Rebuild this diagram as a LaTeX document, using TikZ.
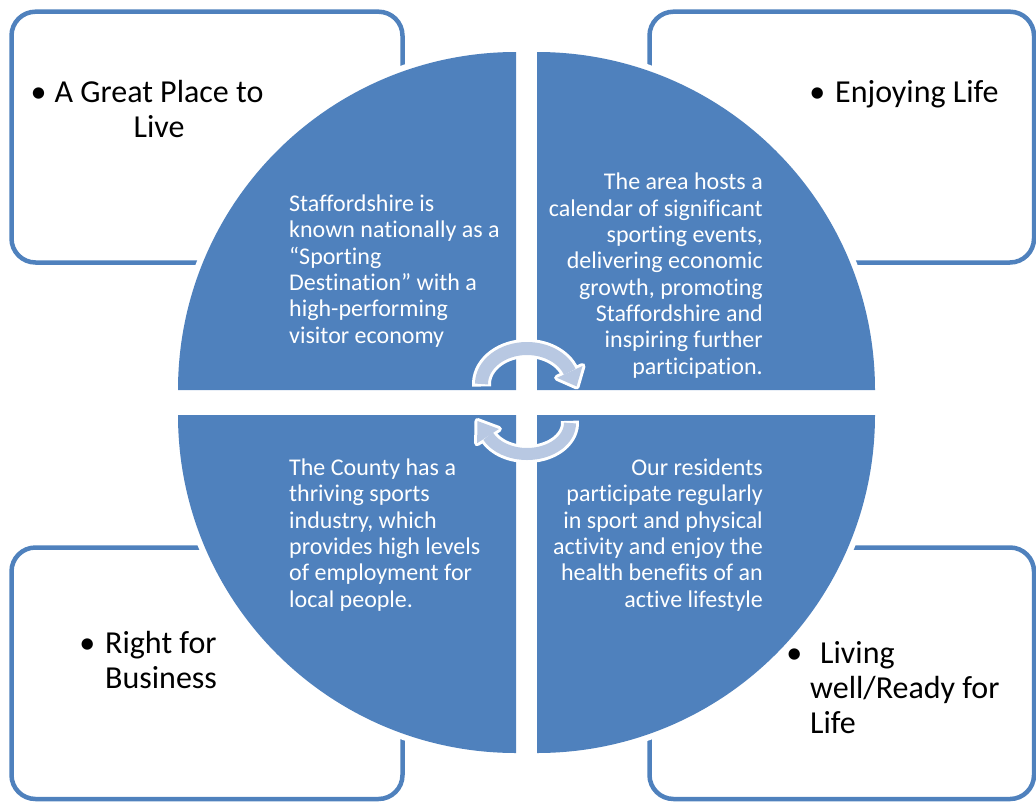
\documentclass[tikz,border=0pt]{standalone}
\usepackage{fontspec}
\setmainfont{Carlito}[Ligatures=NoCommon]
\definecolor{accent}{HTML}{4F81BD}
\definecolor{arrowfill}{HTML}{B8C8E2}
\begin{document}
\begin{tikzpicture}[x=1pt,y=-1pt,
  box/.style={draw=accent, line width=4.5pt, rounded corners=24pt},
  quad/.style={fill=accent},
  halo/.style={fill=white},
  arrowbody/.style={draw=arrowfill, line width=13pt},
  arrowedge/.style={draw=white, line width=19pt},
  label/.style={inner sep=0pt, font=\fontsize{32}{35}\selectfont, text=black},
  body/.style={inner sep=0pt, font=\fontsize{24}{26.3}\selectfont, text=white},
]
\useasboundingbox (0,0) rectangle (1036,801);

% corner boxes
\draw[box] (11.5,11.7) rectangle (402.5,262.5);
\draw[box] (649.5,11.7) rectangle (1034,262.5);
\draw[box] (11.5,547.5) rectangle (402.5,799);
\draw[box] (649.5,547.5) rectangle (1034,799);

% white halo around the four quadrants
\fill[halo] (516,390) -- (172,390) arc[start angle=180, end angle=270, radius=344] -- cycle;
\fill[halo] (537,390) -- (537,46) arc[start angle=270, end angle=360, radius=344] -- cycle;
\fill[halo] (537,415) -- (881,415) arc[start angle=0, end angle=90, radius=344] -- cycle;
\fill[halo] (516,415) -- (516,759) arc[start angle=90, end angle=180, radius=344] -- cycle;

% the four quadrants
\fill[quad] (516,390) -- (178,390) arc[start angle=180, end angle=270, radius=338] -- cycle;
\fill[quad] (537,390) -- (537,52) arc[start angle=270, end angle=360, radius=338] -- cycle;
\fill[quad] (537,415) -- (875,415) arc[start angle=0, end angle=90, radius=338] -- cycle;
\fill[quad] (516,415) -- (516,753) arc[start angle=90, end angle=180, radius=338] -- cycle;

% white outlines of the two circular arrows
\draw[arrowedge] ([shift={(176:45.5 and 35.5)}]527,384) arc[start angle=176, end angle=340, x radius=45.5, y radius=35.5];
\filldraw[white, line width=6pt, line join=round] (582.5,366.0) -- (576.6,386.4) -- (557.1,377.8) -- cycle;
\draw[white, line width=18pt] ([shift={(-4:43 and 31)}]527,423) arc[start angle=-4, end angle=155, x radius=43, y radius=31];
\filldraw[white, line width=6pt, line join=round] (498.9,429.0) -- (477.5,421.0) -- (477.1,443.2) -- cycle;

% upper arrow: left, over the top, to the right
\draw[arrowbody] ([shift={(180:45.5 and 35.5)}]527,384) arc[start angle=180, end angle=340, x radius=45.5, y radius=35.5];
\fill[arrowfill] (582.5,366.0) -- (576.6,386.4) -- (557.1,377.8) -- cycle;
% lower arrow: right, under the bottom, to the left
\draw[arrowfill, line width=12pt] ([shift={(0:43 and 31)}]527,423) arc[start angle=0, end angle=155, x radius=43, y radius=31];
\fill[arrowfill] (498.9,429.0) -- (477.5,421.0) -- (477.1,443.2) -- cycle;

% quadrant texts (anchored on the baseline of the last line)
\node[body, anchor=base west, align=left] (tlq) at (289,343)
  {Staffordshire is\\known nationally as a\\“Sporting\\Destination” with a\\high-performing\\visitor economy};
\node[body, anchor=base east, align=right] (trq) at (763,374)
  {The area hosts a\\calendar of significant\\sporting events,\\delivering economic\\growth, promoting\\Staffordshire and\\inspiring further\\participation.};
\node[body, anchor=base west, align=left] (blq) at (289,607)
  {The County has a\\thriving sports\\industry, which\\provides high levels\\of employment for\\local people.};
\node[body, anchor=base east, align=right] (brq) at (763,607)
  {Our residents\\participate regularly\\in sport and physical\\activity and enjoy the\\health benefits of an\\active lifestyle};

% box labels
\node[label, anchor=base, align=center] (tl) at (159,137)
  {\llap{\textbullet\hspace{8pt}}A Great Place to\\Live};
\node[label, anchor=base west] (tr) at (835,102)
  {\llap{\textbullet\hspace{10pt}}Enjoying Life};
\node[label, anchor=base west, align=left] (bl) at (105,688)
  {\llap{\textbullet\hspace{10pt}}Right for\\Business};
\node[label, anchor=base west, align=left] (br) at (810,733)
  {\llap{\textbullet\hspace{8pt}}\hspace{10pt}Living\\well/Ready for\\Life};
\end{tikzpicture}
\end{document}
